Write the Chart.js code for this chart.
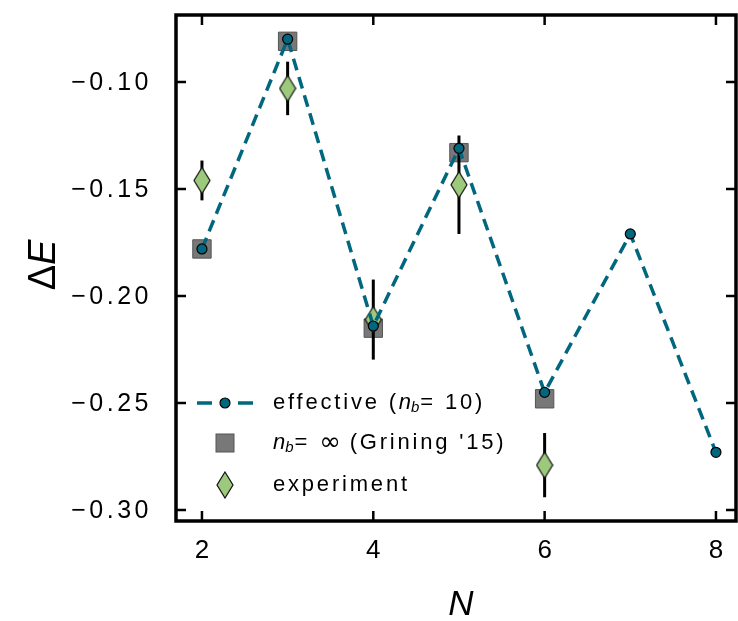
<!DOCTYPE html>
<html>
<head>
<meta charset="utf-8">
<script src="https://cdn.jsdelivr.net/npm/chart.js@4.4.1/dist/chart.umd.min.js"></script>
<style>
  html, body { margin: 0; padding: 0; background: #fff; }
  #wrap { width: 738px; height: 621px; }
</style>
</head>
<body>
<div id="wrap"><canvas id="grafico" width="738" height="621"></canvas></div>
<script>
// --- Dados ---
const valoresN = [2, 3, 4, 5, 6, 7, 8];
const efetivo = [-0.178, -0.080, -0.214, -0.131, -0.245, -0.171, -0.273];
const grinigN = [2, 3, 4, 5, 6];
const grining = [-0.178, -0.081, -0.215, -0.133, -0.248];
const experimentoN = [2, 3, 4, 5, 6];
const experimento = [-0.146, -0.103, -0.211, -0.148, -0.279];
const erroExperimento = [0.0093, 0.0125, 0.0187, 0.023, 0.015];
const ticksX = [2, 4, 6, 8];
const ticksY = [-0.30, -0.25, -0.20, -0.15, -0.10];

const corLinha = '#00677f';
const corQuadrado = '#787878';
const corDiamante = '#9dc97c';
const fonte = '"Liberation Sans", Arial, sans-serif';

// Losango alongado usado como pointStyle
function criarDiamante(w, h) {
  const c = document.createElement('canvas');
  c.width = w + 2; c.height = h + 2;
  const g = c.getContext('2d');
  g.beginPath();
  g.moveTo(c.width / 2, 1);
  g.lineTo(c.width - 1, c.height / 2);
  g.lineTo(c.width / 2, c.height - 1);
  g.lineTo(1, c.height / 2);
  g.closePath();
  g.fillStyle = corDiamante;
  g.fill();
  g.lineWidth = 1.2;
  g.strokeStyle = '#111';
  g.stroke();
  return c;
}
const diamante = criarDiamante(16, 26);

function pares(xs, ys) {
  return xs.map((x, i) => ({ x: x, y: ys[i] }));
}

function formataY(v) {
  return (v < 0 ? '\u2212' : '') + Math.abs(v).toFixed(2);
}

// Escreve texto com espaçamento entre letras
function texto(ctx, str, x, y, font, spacing) {
  ctx.font = font;
  ctx.letterSpacing = spacing + 'px';
  ctx.fillText(str, x, y);
  const w = ctx.measureText(str).width;
  ctx.letterSpacing = '0px';
  return w;
}

// --- Plugin: barras de erro, eixos, rótulos e legenda ---
const decoracao = {
  id: 'decoracao',
  beforeDatasetDraw(chart, args) {
    if (args.index !== 2) return;
    const ctx = chart.ctx;
    const sx = chart.scales.x, sy = chart.scales.y;
    ctx.save();
    ctx.strokeStyle = '#000';
    ctx.lineWidth = 3;
    experimentoN.forEach((n, i) => {
      const px = sx.getPixelForValue(n);
      ctx.beginPath();
      ctx.moveTo(px, sy.getPixelForValue(experimento[i] - erroExperimento[i]));
      ctx.lineTo(px, sy.getPixelForValue(experimento[i] + erroExperimento[i]));
      ctx.stroke();
    });
    ctx.restore();
  },
  afterDraw(chart) {
    const ctx = chart.ctx;
    const a = chart.chartArea;
    const sx = chart.scales.x, sy = chart.scales.y;
    ctx.save();
    ctx.fillStyle = '#000';
    ctx.strokeStyle = '#000';

    // moldura
    ctx.lineWidth = 3.5;
    ctx.strokeRect(a.left, a.top, a.right - a.left, a.bottom - a.top);

    // marcas para dentro
    ctx.lineWidth = 2.5;
    const tam = 10;
    ticksX.forEach(v => {
      const px = sx.getPixelForValue(v);
      ctx.beginPath();
      ctx.moveTo(px, a.bottom); ctx.lineTo(px, a.bottom - tam);
      ctx.moveTo(px, a.top); ctx.lineTo(px, a.top + tam);
      ctx.stroke();
    });
    ticksY.forEach(v => {
      const py = sy.getPixelForValue(v);
      ctx.beginPath();
      ctx.moveTo(a.left, py); ctx.lineTo(a.left + tam, py);
      ctx.moveTo(a.right, py); ctx.lineTo(a.right - tam, py);
      ctx.stroke();
    });

    // rótulos dos eixos
    const fTick = '25px ' + fonte;
    ctx.textBaseline = 'middle';
    ctx.textAlign = 'right';
    ticksY.forEach(v => {
      texto(ctx, formataY(v), a.left - 24, sy.getPixelForValue(v) + 1, fTick, 3.5);
    });
    ctx.textAlign = 'center';
    ticksX.forEach(v => {
      texto(ctx, String(v), sx.getPixelForValue(v), a.bottom + 30, '26px ' + fonte, 0);
    });

    // títulos
    ctx.textAlign = 'center';
    ctx.textBaseline = 'alphabetic';
    ctx.font = 'italic 35px ' + fonte;
    ctx.fillText('N', 461, 615);

    ctx.save();
    ctx.translate(55, 265);
    ctx.rotate(-Math.PI / 2);
    ctx.textAlign = 'left';
    ctx.font = '38px ' + fonte;
    const wD = ctx.measureText('\u0394').width;
    ctx.font = 'italic 38px ' + fonte;
    const wE = ctx.measureText('E').width;
    const x0 = -(wD + wE) / 2;
    ctx.font = '38px ' + fonte;
    ctx.fillText('\u0394', x0, 0);
    ctx.font = 'italic 38px ' + fonte;
    ctx.fillText('E', x0 + wD, 0);
    ctx.restore();

    // legenda
    const lx = 225, tx = 273;
    const linhas = [403, 443, 485];
    ctx.textAlign = 'left';
    ctx.textBaseline = 'middle';
    const fLeg = '22px ' + fonte;
    const fIt = 'italic 22px ' + fonte;
    const fSub = 'italic 15px ' + fonte;

    // linha tracejada + círculo
    ctx.strokeStyle = corLinha;
    ctx.lineWidth = 3.5;
    ctx.beginPath();
    ctx.moveTo(197, linhas[0]); ctx.lineTo(212, linhas[0]);
    ctx.moveTo(238, linhas[0]); ctx.lineTo(253, linhas[0]);
    ctx.stroke();
    ctx.beginPath();
    ctx.arc(lx, linhas[0], 5, 0, Math.PI * 2);
    ctx.fillStyle = corLinha;
    ctx.fill();
    ctx.lineWidth = 1.2;
    ctx.strokeStyle = '#000';
    ctx.stroke();

    // quadrado
    ctx.fillStyle = corQuadrado;
    ctx.fillRect(lx - 9, linhas[1] - 9, 18, 18);
    ctx.strokeStyle = '#555';
    ctx.lineWidth = 1;
    ctx.strokeRect(lx - 9, linhas[1] - 9, 18, 18);

    // losango
    ctx.drawImage(diamante, lx - diamante.width / 2, linhas[2] - diamante.height / 2);

    ctx.fillStyle = '#000';
    let x = tx;
    x += texto(ctx, 'effective (', x, linhas[0], fLeg, 2.8);
    x += texto(ctx, 'n', x, linhas[0], fIt, 0);
    x += texto(ctx, 'b', x, linhas[0] + 5, fSub, 0);
    texto(ctx, '= 10)', x + 1, linhas[0], fLeg, 2.8);

    x = tx;
    x += texto(ctx, 'n', x, linhas[1], fIt, 0);
    x += texto(ctx, 'b', x, linhas[1] + 5, fSub, 0);
    x += texto(ctx, '= ', x + 1, linhas[1], fLeg, 2.8);
    x += texto(ctx, '\u221e', x + 1, linhas[1], '26px "DejaVu Sans", sans-serif', 0);
    texto(ctx, ' (Grining \'15)', x + 1, linhas[1], fLeg, 2.8);

    texto(ctx, 'experiment', tx, linhas[2], fLeg, 2.8);

    ctx.restore();
  }
};

const grafico = new Chart(document.getElementById('grafico'), {
  type: 'scatter',
  data: {
    datasets: [{
      label: 'effective (n_b = 10)',
      type: 'line',
      data: pares(valoresN, efetivo),
      borderColor: corLinha,
      borderWidth: 3.5,
      borderDash: [12, 7],
      pointRadius: 5,
      pointBackgroundColor: corLinha,
      pointBorderColor: '#000',
      pointBorderWidth: 1.2,
      fill: false,
      tension: 0,
      order: 0
    }, {
      label: "n_b = ∞ (Grining '15)",
      data: pares(grinigN, grining),
      pointStyle: 'rect',
      pointRadius: 13,
      backgroundColor: corQuadrado,
      borderColor: '#555',
      borderWidth: 1,
      order: 2
    }, {
      label: 'experiment',
      data: pares(experimentoN, experimento),
      pointStyle: diamante,
      order: 1
    }]
  },
  options: {
    responsive: false,
    animation: false,
    devicePixelRatio: 1,
    layout: { autoPadding: false, padding: { top: 15, right: 2, left: 0, bottom: 0 } },
    plugins: { legend: { display: false }, tooltip: { enabled: false } },
    scales: {
      x: {
        type: 'linear',
        min: 1.697,
        max: 8.234,
        grid: { display: false },
        border: { display: false },
        ticks: { display: false },
        afterFit: s => { s.height = 100; }
      },
      y: {
        min: -0.3051,
        max: -0.0687,
        grid: { display: false },
        border: { display: false },
        ticks: { display: false },
        afterFit: s => { s.width = 176; }
      }
    }
  },
  plugins: [decoracao]
});
</script>
</body>
</html>
